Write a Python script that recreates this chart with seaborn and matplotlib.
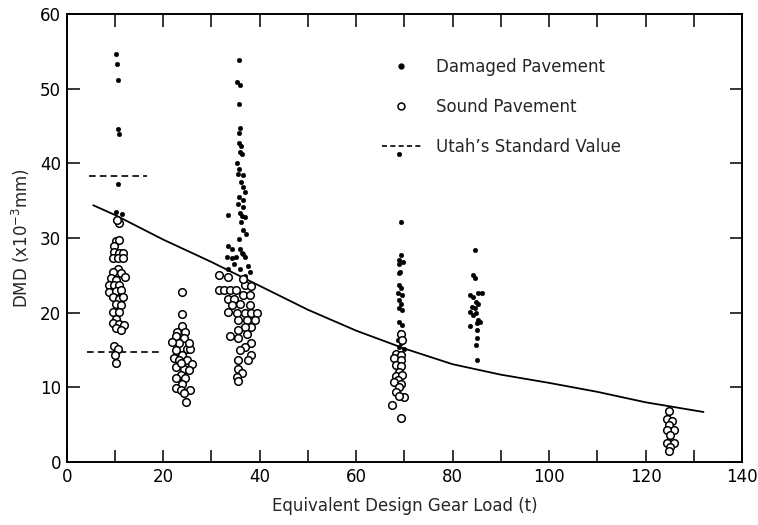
import matplotlib
matplotlib.use("Agg")
import matplotlib.pyplot as plt
from matplotlib.lines import Line2D
import seaborn as sns
import pandas as pd

# Damaged pavement deflections (filled dots)
damaged_x = [
    10.2, 10.4, 10.7, 10.6, 10.9, 10.6, 10.2, 11.5,
    35.7, 35.4, 35.9, 35.7, 35.9, 35.7, 35.7, 36.1, 35.9, 36.4, 35.2, 35.7, 35.5, 36.5,
    36.2, 36.5, 37.0, 35.7, 36.5, 35.5, 36.5, 35.9, 36.9, 33.5, 36.1, 36.6, 37.2, 35.7,
    33.5, 34.3, 35.9, 36.6, 33.2, 34.3, 36.9, 35.0, 36.3, 33.5, 35.9, 38.0, 37.0, 36.3,
    37.5, 34.6,
    68.9, 69.2, 69.2, 68.9, 69.8, 68.9, 69.0, 68.9, 68.9, 69.2, 68.7, 69.5, 68.9, 69.2,
    68.9, 69.5, 68.9, 69.5, 69.1, 68.7, 69.8, 69.2, 68.9, 69.9, 69.2,
    84.6, 84.3, 84.6, 83.6, 84.3, 85.3, 86.0, 84.8, 85.3, 84.0, 84.6, 83.6, 84.9, 84.3,
    85.3, 85.0, 85.6, 83.6, 85.0, 85.0, 84.9, 85.0,
]
damaged_y = [
    54.6, 53.3, 51.2, 44.6, 43.9, 37.2, 33.5, 33.2,
    53.9, 50.9, 50.5, 48.0, 44.8, 44.1, 42.7, 42.3, 41.6, 41.3, 40.0, 39.3, 38.6, 38.4,
    37.5, 36.8, 36.2, 35.5, 35.1, 34.6, 34.2, 33.3, 32.8, 33.1, 32.2, 31.1, 30.6, 29.9,
    29.0, 28.6, 28.6, 27.9, 27.5, 27.3, 27.5, 27.4, 28.0, 25.9, 25.9, 25.5, 24.9, 32.9,
    26.2, 26.5,
    41.2, 32.2, 27.7, 27.0, 26.8, 26.5, 25.5, 25.3, 23.7, 23.3, 22.6, 22.4, 21.7, 21.2,
    20.6, 20.3, 18.8, 18.3, 17.4, 16.3, 16.3, 15.9, 15.4, 15.1, 14.5,
    28.4, 25.0, 24.6, 22.4, 22.1, 22.6, 22.7, 21.5, 21.2, 20.8, 20.6, 20.1, 20.0, 19.7,
    19.0, 18.6, 18.8, 18.2, 17.7, 16.6, 15.7, 13.7,
]

# Sound pavement deflections (open circles)
sound_x = [
    10.9, 10.4, 10.2, 10.9, 9.9, 9.9, 10.9, 11.6, 9.5, 10.6, 11.6, 10.6, 9.5, 11.3,
    12.1, 9.2, 10.2, 8.8, 9.9, 10.9, 8.8, 10.2, 11.3, 9.5, 10.9, 11.6, 10.2, 11.3,
    9.5, 10.8, 10.2, 9.5, 10.9, 11.9, 10.2, 11.3, 9.9, 10.6, 10.1, 10.2,
    23.9, 23.9, 23.8, 22.9, 24.6, 22.6, 24.3, 23.3, 25.0, 25.6, 22.6, 23.8, 22.2, 23.3,
    25.0, 26.0, 22.6, 24.3, 25.3, 23.6, 22.6, 24.6, 23.9, 22.6, 23.6, 25.6, 24.3, 24.8,
    21.9, 25.3, 23.6,
    31.5, 33.4, 31.5, 32.7, 33.9, 35.0, 37.0, 38.3, 33.5, 34.6, 36.6, 38.0, 34.2, 35.9,
    38.0, 33.5, 35.2, 37.0, 38.3, 39.4, 35.5, 37.3, 39.0, 38.3, 37.0, 35.6, 33.9, 37.3,
    35.6, 38.3, 37.0, 35.9, 38.3, 35.6, 37.5, 35.6, 36.3, 35.2, 35.5, 36.5,
    69.2, 69.5, 68.2, 69.2, 67.8, 69.2, 68.2, 69.2, 68.9, 68.2, 69.5, 68.6, 67.8, 69.2,
    68.9, 68.2, 69.9, 68.9, 67.5, 69.2,
    124.8, 124.4, 125.4, 124.8, 125.8, 124.4, 125.1, 124.4, 125.8, 125.1, 124.8,
]
sound_y = [
    32.0, 32.4, 29.6, 29.7, 28.9, 28.2, 28.0, 28.0, 27.3, 27.3, 27.3, 25.8, 25.5, 25.3,
    24.8, 24.6, 24.4, 23.7, 23.7, 23.7, 22.8, 22.9, 23.0, 22.1, 21.9, 22.1, 21.2, 21.0,
    20.1, 20.1, 19.2, 18.6, 18.5, 18.3, 17.9, 17.7, 15.5, 15.1, 14.4, 13.3,
    22.8, 19.8, 18.2, 17.4, 17.4, 16.9, 16.6, 15.9, 15.2, 15.2, 15.0, 14.4, 13.9, 13.7,
    13.7, 13.1, 12.7, 12.5, 12.3, 11.6, 11.2, 11.2, 10.5, 9.9, 9.6, 9.7, 9.2, 8.1,
    16.1, 15.9, 13.2,
    25.0, 24.8, 23.0, 23.0, 23.0, 23.0, 23.7, 23.6, 21.9, 21.9, 22.4, 22.4, 21.0, 21.2,
    21.0, 20.1, 19.9, 19.9, 19.9, 19.9, 19.0, 19.0, 19.0, 18.1, 18.1, 17.7, 16.9, 17.2,
    16.6, 15.9, 15.4, 15.0, 14.3, 13.7, 13.7, 12.5, 11.9, 11.4, 10.9, 24.5,
    17.2, 16.3, 14.5, 14.3, 13.9, 13.7, 13.0, 12.8, 12.1, 11.5, 11.7, 11.0, 10.7, 10.4,
    10.0, 9.4, 8.7, 8.8, 7.6, 5.9,
    6.9, 5.8, 5.5, 5.0, 4.3, 4.3, 3.6, 2.6, 2.5, 2.0, 1.5,
]

# Regression curve of DMD against design gear load
curve_x = [5.5, 10, 20, 30, 40, 50, 60, 70, 80, 90, 100, 110, 120, 132]
curve_y = [34.4, 33.1, 29.8, 26.8, 23.6, 20.4, 17.6, 15.2, 13.1, 11.7, 10.6, 9.4, 8.0, 6.7]

# Utah's standard values (upper and lower)
std_levels = [38.3, 14.8]
std_spans = [(4.7, 16.7), (4.2, 19.5)]

damaged = pd.DataFrame({"load": damaged_x, "dmd": damaged_y})
sound = pd.DataFrame({"load": sound_x, "dmd": sound_y})
curve = pd.DataFrame({"load": curve_x, "dmd": curve_y})

sns.set_style("ticks")
plt.rcParams["font.family"] = ["DejaVu Sans"]

fig = plt.figure(figsize=(7.58, 5.25), dpi=100)
ax = fig.add_axes([0.088, 0.12, 0.891, 0.853])

sns.lineplot(data=curve, x="load", y="dmd", sort=False, color="black",
             linewidth=1.3, ax=ax, zorder=2)
for lvl, (x0, x1) in zip(std_levels, std_spans):
    ax.plot([x0, x1], [lvl, lvl], color="black", linestyle=(0, (4, 2.5)),
            linewidth=1.2, zorder=2)
sns.scatterplot(data=damaged, x="load", y="dmd", marker="o", s=11,
                color="black", edgecolor="black", linewidth=0.3, ax=ax, zorder=3)
sns.scatterplot(data=sound, x="load", y="dmd", marker="o", s=30,
                facecolor="white", edgecolor="black", linewidth=1.1, ax=ax, zorder=4)

ax.set_xlim(0, 140)
ax.set_ylim(0, 60)
ax.set_xticks(range(0, 141, 20))
ax.set_xticks(range(0, 141, 10), minor=True)
ax.set_yticks(range(0, 61, 10))
ax.tick_params(which="both", direction="in", top=True, right=True,
               width=1.1, labelsize=12, color="black", labelcolor="black")
ax.tick_params(which="major", length=9, pad=4)
ax.tick_params(which="minor", length=9)
for sp in ax.spines.values():
    sp.set_linewidth(1.4)
    sp.set_color("black")

ax.set_xlabel("Equivalent Design Gear Load (t)", fontsize=12, labelpad=8)
ax.set_ylabel(r"DMD (x10$^{-3}$mm)", fontsize=12, labelpad=6)

handles = [
    Line2D([], [], marker="o", linestyle="none", markersize=3.5,
           markerfacecolor="black", markeredgecolor="black"),
    Line2D([], [], marker="o", linestyle="none", markersize=5,
           markerfacecolor="white", markeredgecolor="black", markeredgewidth=1.1),
    Line2D([], [], color="black", linestyle=(0, (3, 2)), linewidth=1.2),
]
ax.legend(handles, ["Damaged Pavement", "Sound Pavement", "Utah\u2019s Standard Value"],
          loc="upper left", bbox_to_anchor=(0.445, 0.935), frameon=False,
          fontsize=12, handlelength=2.3, labelspacing=1.3, handletextpad=0.9)

fig.savefig("out.png", dpi=100)
